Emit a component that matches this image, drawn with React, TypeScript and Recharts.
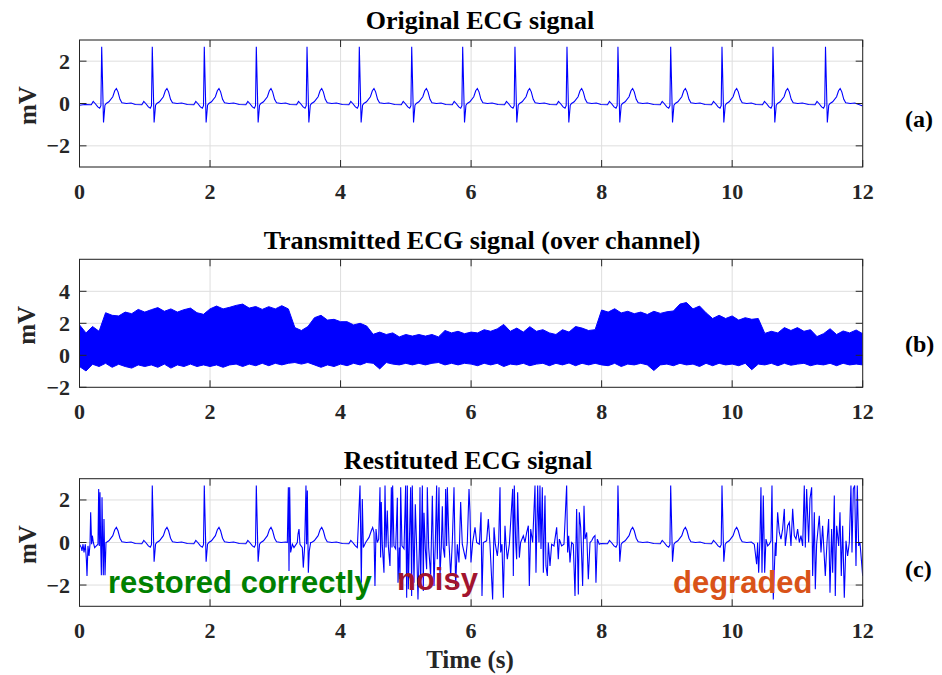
import React from 'react';
import { ComposedChart, Line, Area, XAxis, YAxis, CartesianGrid } from 'recharts';

// ---- data ----
const timeTicks = [0, 2, 4, 6, 8, 10, 12];
const ecgTicks = [-2, 0, 2];
const channelTicks = [-2, 0, 2, 4];

// R-peak times (s) of the original ECG
const beatTimes = [0.34, 1.115, 1.912, 2.709, 3.486, 4.287, 5.09, 5.871, 6.672, 7.469, 8.25, 9.058, 9.844, 10.625, 11.43];
// one heartbeat: offset from R peak (s) and level (mV)
const beatOffsets = [-0.26, -0.16, -0.13, -0.1, -0.06, -0.03, -0.012, 0, 0.028, 0.05, 0.07, 0.11, 0.17, 0.2, 0.225, 0.25, 0.28, 0.31, 0.38, 0.45];
const beatShape = [-0.05, -0.06, 0.1, 0.0, -0.16, -0.22, -0.1, 2.68, -0.9, -0.08, 0.0, 0.08, 0.32, 0.6, 0.71, 0.55, 0.2, 0.03, 0.0, 0.02];
const ecgEdges = [-0.08, -0.12]; // level at t=0 and t=12

// transmitted signal: noise envelope every 0.1 s from 0 to 12 s
const bandStep = 0.1;
const channelUpper = [
  1.9, 1.4, 1.8, 1.5,
  2.66, 2.5, 2.46, 2.7, 2.6, 2.87, 2.7, 2.85, 2.98, 2.75, 2.9, 2.7, 2.85, 2.95, 2.66, 2.56, 2.9, 3.08, 2.9, 3.0, 3.12, 3.2, 2.95, 3.05, 2.87, 3.04, 2.9, 3.1, 2.9,
  1.73, 1.55, 1.8,
  2.35, 2.5, 2.2, 2.25, 2.1, 2.1, 1.9, 2.0, 1.83,
  1.31, 1.45, 1.3, 1.4, 1.15, 1.3, 1.2, 1.3, 1.2, 1.3, 1.15, 1.55, 1.4, 1.5, 1.35, 1.45,
  1.4, 1.6, 1.5, 1.65, 1.93, 1.5, 1.7, 1.45, 1.79, 1.5, 1.6, 1.4, 1.3, 1.6, 1.45, 1.8, 1.7, 1.55, 1.6,
  2.83, 2.7, 2.91, 2.65, 2.75, 2.6, 2.7, 2.55, 2.75, 2.62, 2.72, 2.77, 3.2, 3.3, 2.9, 3.08, 2.66, 2.3, 2.5, 2.3, 2.46, 2.2, 2.35, 2.25, 2.3,
  1.37, 1.5, 1.4, 1.73, 1.55, 1.73, 1.5, 1.6, 1.17, 1.35, 1.66, 1.3, 1.52, 1.4, 1.58, 1.35,
];
const channelLower = [
  -0.7, -0.98, -0.56, -0.7, -0.5, -0.75, -0.56, -0.7, -0.8, -0.6, -0.7,
  -0.6, -0.75, -0.55, -0.8, -0.6, -0.7, -0.55, -0.7, -0.6, -0.7,
  -0.6, -0.75, -0.6, -0.55, -0.7, -0.55, -0.65, -0.5, -0.65, -0.5,
  -0.6, -0.5, -0.45, -0.55, -0.45, -0.6, -0.75, -0.6, -0.7, -0.55,
  -0.65, -0.5, -0.6, -0.45, -0.5, -0.85, -0.45, -0.55, -0.6, -0.5,
  -0.6, -0.5, -0.6, -0.5, -0.45, -0.6, -0.5, -0.6, -0.5, -0.55,
  -0.65, -0.5, -0.6, -0.5, -0.7, -0.55, -0.6, -0.5, -0.65, -0.55,
  -0.5, -0.65, -0.5, -0.6, -0.48, -0.65, -0.5, -0.6, -0.5, -0.6,
  -0.65, -0.5, -0.7, -0.55, -0.6, -0.5, -0.6, -0.95, -0.6, -0.55,
  -0.65, -0.5, -0.6, -0.55, -0.7, -0.5, -0.65, -0.5, -0.6, -0.55,
  -0.65, -0.5, -0.9, -0.55, -0.6, -0.5, -0.65, -0.5, -0.62, -0.55,
  -0.5, -0.65, -0.55, -0.6, -0.5, -0.65, -0.5, -0.6, -0.55, -0.6,
];

// restituted signal: corrupted stretches, [t (s), mV]
const burstStart = [
  [0, -0.08], [0.028, -0.24], [0.038, -0.39], [0.054, -0.08], [0.069, -0.47], [0.089, -0.08], [0.105, -0.79], [0.115, -1.57],
  [0.13, -0.16], [0.146, -0.63], [0.161, -0.08], [0.171, 1.42], [0.186, -0.08], [0.197, 0.32], [0.212, 0.0], [0.232, -0.24],
  [0.258, -0.16], [0.283, -0.08], [0.294, 2.52], [0.304, -0.16], [0.314, 2.36], [0.324, 0.0], [0.335, -1.54], [0.345, 2.13],
  [0.355, 0.0], [0.365, -1.54], [0.375, 1.1], [0.391, -1.54], [0.406, 0.0],
];
const burstA = [
  [3.184, 0.0], [3.2, 2.6], [3.21, -1.34], [3.22, 2.6], [3.235, -0.47], [3.261, -0.08], [3.286, -0.24], [3.337, 0.0],
  [3.348, 0.4], [3.363, 0.63], [3.378, -0.08], [3.414, -0.24], [3.429, -1.18], [3.45, -0.16], [3.47, 2.68], [3.48, -0.08],
  [3.491, 2.44], [3.506, -1.42], [3.521, -0.39], [3.542, 0.0],
];
const burstB = [
  [4.257, -0.24], [4.298, 2.68], [4.318, -1.89], [4.333, 2.05], [4.349, -0.24], [4.384, 0.0], [4.436, 0.24], [4.471, 0.55],
  [4.492, 0.71], [4.512, 0.47], [4.527, -2.05], [4.543, 0.63],
];
const noisyStretch = [
  [4.563, 0.0], [4.584, 0.16], [4.604, 2.6], [4.614, -0.71], [4.624, 1.9], [4.64, -0.16], [4.665, -1.42], [4.681, 2.68],
  [4.696, -0.24], [4.716, 1.5], [4.732, -0.16], [4.757, -1.1], [4.778, 2.6], [4.788, -0.24], [4.798, 2.68], [4.818, -0.16],
  [4.844, -0.3], [4.87, 2.1], [4.88, -1.89], [4.9, -0.24], [4.91, -1.73], [4.921, 2.6], [4.941, -0.16], [4.972, -0.3],
  [4.997, 2.68], [5.013, -2.6], [5.023, 2.68], [5.038, -2.2], [5.053, -0.16], [5.074, 2.6], [5.089, -2.52], [5.099, 2.68],
  [5.115, -0.16], [5.125, -1.89], [5.145, 1.8], [5.166, -0.24], [5.186, -2.68], [5.207, -0.24], [5.217, 2.6], [5.227, -2.05],
  [5.253, 2.68], [5.268, -2.28], [5.278, 1.4], [5.299, -0.31], [5.319, -1.26], [5.329, 2.6], [5.35, -0.24], [5.38, -1.57],
  [5.406, 2.2], [5.421, -0.24], [5.431, -2.05], [5.452, 0.0], [5.472, 2.68], [5.482, -0.79], [5.508, 2.6], [5.523, -1.57],
  [5.544, -0.16], [5.559, 1.7], [5.574, -0.24], [5.595, -0.71], [5.61, 2.52], [5.625, -0.16], [5.636, 2.6], [5.661, 0.0],
  [5.687, -1.57], [5.712, 0.0], [5.738, 2.6], [5.763, -2.05], [5.789, -0.08], [5.814, -0.94], [5.84, 1.9], [5.865, -0.08],
  [5.916, -0.79], [5.942, 0.0], [5.968, 2.52], [5.983, 1.42], [5.998, -0.94], [6.024, 0.0], [6.06, 0.71], [6.085, 0.0],
  [6.126, -0.08], [6.152, 1.42], [6.167, -2.52], [6.187, 0.0], [6.238, 0.08], [6.264, 1.1], [6.289, -0.08], [6.33, -2.68],
  [6.351, 0.71], [6.371, -0.08], [6.402, -0.63], [6.422, 0.0], [6.443, 2.6], [6.453, -0.47], [6.473, -0.08], [6.494, -2.6],
  [6.519, 0.79], [6.535, -0.08], [6.555, -0.79], [6.586, -0.08], [6.637, 2.52], [6.647, -1.57], [6.662, 2.68], [6.683, 0.0],
  [6.698, -0.79], [6.713, 2.36], [6.739, -0.71], [6.759, 0.0], [6.8, 0.32], [6.826, 0.0], [6.851, 0.47], [6.877, 0.79],
  [6.892, -2.05], [6.913, 0.63], [6.943, 0.0], [6.979, 2.68], [6.994, -1.42], [7.02, 2.68], [7.04, 0.0], [7.055, 2.68],
  [7.071, -0.31], [7.091, 2.6], [7.107, -1.42], [7.132, 2.21], [7.147, -1.1], [7.168, -1.57], [7.183, 0.0], [7.209, -1.1],
  [7.234, -0.08], [7.27, -0.16], [7.311, 0.71], [7.336, -0.79], [7.352, 0.16], [7.387, -0.16], [7.423, -0.08], [7.464, 2.68],
  [7.479, -0.47], [7.495, 0.32], [7.515, -0.94], [7.541, 0.0], [7.566, -0.08], [7.592, -2.52], [7.617, 1.58], [7.643, -2.44],
  [7.658, 1.42], [7.679, 0.71], [7.709, -2.05], [7.73, 1.73], [7.745, 0.16], [7.771, 0.47], [7.796, -1.73], [7.822, 0.0],
  [7.847, 0.08], [7.873, 0.24], [7.898, 0.32], [7.913, -1.89], [7.934, 0.16], [7.964, -0.08],
];
const degradedStretch = [
  [10.339, -0.08], [10.375, -1.02], [10.39, 0.0], [10.406, -1.42], [10.426, 0.16], [10.441, 2.6], [10.457, -1.42], [10.477, 2.21],
  [10.498, -1.42], [10.518, 0.16], [10.544, -0.16], [10.569, -0.08], [10.595, 0.08], [10.61, 2.68], [10.63, -2.68], [10.661, 0.0],
  [10.671, -0.63], [10.697, 1.42], [10.722, 0.47], [10.748, 0.16], [10.773, 0.63], [10.799, 1.58], [10.814, -0.16], [10.85, 0.79],
  [10.876, 0.95], [10.901, -0.16], [10.927, 1.58], [10.952, 0.32], [10.978, 0.16], [11.003, 0.63], [11.029, 0.0], [11.054, 0.32],
  [11.08, -0.16], [11.105, 2.68], [11.121, -0.24], [11.141, 2.52], [11.172, 0.0], [11.192, 2.05], [11.218, 2.6], [11.233, -1.57],
  [11.259, 1.42], [11.274, -2.2], [11.294, -0.08], [11.335, 1.26], [11.361, -0.47], [11.386, 0.79], [11.427, -1.57], [11.453, 0.0],
  [11.478, 1.1], [11.499, -2.36], [11.524, 0.63], [11.54, -1.42], [11.565, 2.21], [11.58, -2.52], [11.601, 0.79], [11.632, -0.16],
  [11.652, 1.42], [11.672, -1.57], [11.693, 0.79], [11.718, -2.6], [11.744, 0.08], [11.769, -0.63], [11.795, 0.0], [11.82, 2.68],
  [11.836, -0.47], [11.856, 2.52], [11.877, 2.68], [11.897, -1.1], [11.917, 2.68], [11.938, -0.16], [11.958, 0.0], [11.979, -0.79],
  [12, -1.57],
];

// ---- series built from the arrays above ----
const ecgData: { t: number; v: number }[] = [{ t: 0, v: ecgEdges[0] }];
beatTimes.forEach((r) => {
  beatOffsets.forEach((d, i) => ecgData.push({ t: +(r + d).toFixed(3), v: beatShape[i] }));
});
ecgData.push({ t: 12, v: ecgEdges[1] });

const channelData = channelUpper.map((hi, i) => ({
  t: +(i * bandStep).toFixed(2),
  band: [channelLower[i], hi],
}));

const bursts = [burstStart, burstA, burstB, noisyStretch, degradedStretch];
const restitutedData = [
  ...ecgData.filter((p) => !bursts.some((b) => p.t >= b[0][0] && p.t <= b[b.length - 1][0])),
  ...bursts.flat().map(([t, v]) => ({ t, v })),
].sort((a, b) => a.t - b.t);

// ---- layout ----
const W = 942;
const H = 675;
const PLOT_L = 79.5;
const PLOT_R = 862.7;
const PW = PLOT_R - PLOT_L;
const TICK = 7;
const SERIF = '"Liberation Serif", "Times New Roman", serif';
const SANS = '"Liberation Sans", Arial, sans-serif';
const INK = '#262626';
const BLUE = '#0000ff';

const fmt = (v: number) => (v < 0 ? '\u2212' + Math.abs(v) : String(v));

const yTick = (props: any) => {
  const { x, y, payload } = props;
  return (
    <g>
      <line x1={x} x2={x + TICK} y1={y} y2={y} stroke={INK} />
      <line x1={x + PW - TICK} x2={x + PW} y1={y} y2={y} stroke={INK} />
      <text x={x - 9.5} y={y + 7.5} textAnchor="end" fill={INK} fontFamily={SERIF} fontWeight="bold" fontSize={22}>
        {fmt(payload.value)}
      </text>
    </g>
  );
};

const makeXTick = (ph: number) => (props: any) => {
  const { x, y, payload } = props;
  return (
    <g>
      <line x1={x} x2={x} y1={y} y2={y - TICK} stroke={INK} />
      <line x1={x} x2={x} y1={y - ph} y2={y - ph + TICK} stroke={INK} />
      <text x={x} y={y + 32} textAnchor="middle" fill={INK} fontFamily={SERIF} fontWeight="bold" fontSize={22}>
        {fmt(payload.value)}
      </text>
    </g>
  );
};

type PanelProps = {
  top: number;
  height: number;
  plotTop: number;
  plotH: number;
  domain: [number, number];
  ticks: number[];
  data: any[];
  children: React.ReactNode;
};

// axes get 1px of room so recharts still draws their ticks
const Panel = ({ top, height, plotTop, plotH, domain, ticks, data, children }: PanelProps) => (
  <div style={{ position: 'absolute', left: 0, top, width: W, height }}>
    <ComposedChart
      width={W}
      height={height}
      data={data}
      margin={{ top: plotTop, right: W - PLOT_R, bottom: height - plotTop - plotH - 1, left: PLOT_L - 1 }}
    >
      <CartesianGrid stroke="#dedede" />
      <XAxis
        dataKey="t"
        type="number"
        domain={[0, 12]}
        ticks={timeTicks}
        interval={0}
        height={1}
        tickSize={0}
        tickMargin={0}
        axisLine={false}
        tickLine={false}
        tick={makeXTick(plotH)}
        allowDataOverflow
      />
      <YAxis
        type="number"
        domain={domain}
        ticks={ticks}
        interval={0}
        width={1}
        tickSize={0}
        tickMargin={0}
        axisLine={false}
        tickLine={false}
        tick={yTick}
        allowDataOverflow
      />
      {children}
    </ComposedChart>
  </div>
);

const panels = [
  { top: 0, height: 215, plotTop: 40, plotH: 127 },
  { top: 215, height: 225, plotTop: 44.3, plotH: 128 },
  { top: 440, height: 235, plotTop: 38.7, plotH: 127.6 },
];

const titles = [
  { text: 'Original ECG signal', x: 480, y: 29.3 },
  { text: 'Transmitted ECG signal (over channel)', x: 482, y: 249.3 },
  { text: 'Restituted ECG signal', x: 468, y: 469.3 },
];

export default function App() {
  return (
    <div style={{ position: 'absolute', left: 0, top: 0, width: W, height: H, background: '#fff', overflow: 'hidden' }}>
      <Panel {...panels[0]} domain={[-3, 3]} ticks={ecgTicks} data={ecgData}>
        <Line dataKey="v" type="linear" stroke={BLUE} strokeWidth={1.1} dot={false} isAnimationActive={false} />
      </Panel>
      <Panel {...panels[1]} domain={[-2, 6]} ticks={channelTicks} data={channelData}>
        <Area
          dataKey="band"
          type="linear"
          stroke={BLUE}
          strokeWidth={1}
          fill={BLUE}
          fillOpacity={1}
          dot={false}
          isAnimationActive={false}
        />
      </Panel>
      <Panel {...panels[2]} domain={[-3, 3]} ticks={ecgTicks} data={restitutedData}>
        <Line dataKey="v" type="linear" stroke={BLUE} strokeWidth={1.1} dot={false} isAnimationActive={false} />
      </Panel>

      <svg width={W} height={H} style={{ position: 'absolute', left: 0, top: 0, pointerEvents: 'none' }}>
        {panels.map((p, i) => (
          <g key={i}>
            <rect
              x={PLOT_L}
              y={p.top + p.plotTop}
              width={PW}
              height={p.plotH}
              fill="none"
              stroke={INK}
              strokeWidth={1}
            />
            <text
              x={27}
              y={p.top + p.plotTop + p.plotH / 2 + 2}
              transform={`rotate(-90, 27, ${p.top + p.plotTop + p.plotH / 2 + 2})`}
              textAnchor="middle"
              dominantBaseline="central"
              fontFamily={SERIF}
              fontWeight="bold"
              fontSize={25}
              fill={INK}
            >
              mV
            </text>
            <text x={titles[i].x} y={titles[i].y} textAnchor="middle" fontFamily={SERIF} fontWeight="bold" fontSize={26} fill="#000">
              {titles[i].text}
            </text>
          </g>
        ))}
        <text x={905} y={127} fontFamily={SERIF} fontWeight="bold" fontSize={24} fill="#000">(a)</text>
        <text x={905} y={352} fontFamily={SERIF} fontWeight="bold" fontSize={24} fill="#000">(b)</text>
        <text x={905} y={577} fontFamily={SERIF} fontWeight="bold" fontSize={24} fill="#000">(c)</text>
        <text x={470} y={668} textAnchor="middle" fontFamily={SERIF} fontWeight="bold" fontSize={25} fill={INK}>
          Time (s)
        </text>
        <text x={108} y={593} fontFamily={SANS} fontWeight="bold" fontSize={31} fill="#008000">restored correctly</text>
        <text x={397} y={590} fontFamily={SANS} fontWeight="bold" fontSize={31} fill="#A2142F">noisy</text>
        <text x={673} y={592.5} fontFamily={SANS} fontWeight="bold" fontSize={31} fill="#D95319">degraded</text>
      </svg>
    </div>
  );
}
